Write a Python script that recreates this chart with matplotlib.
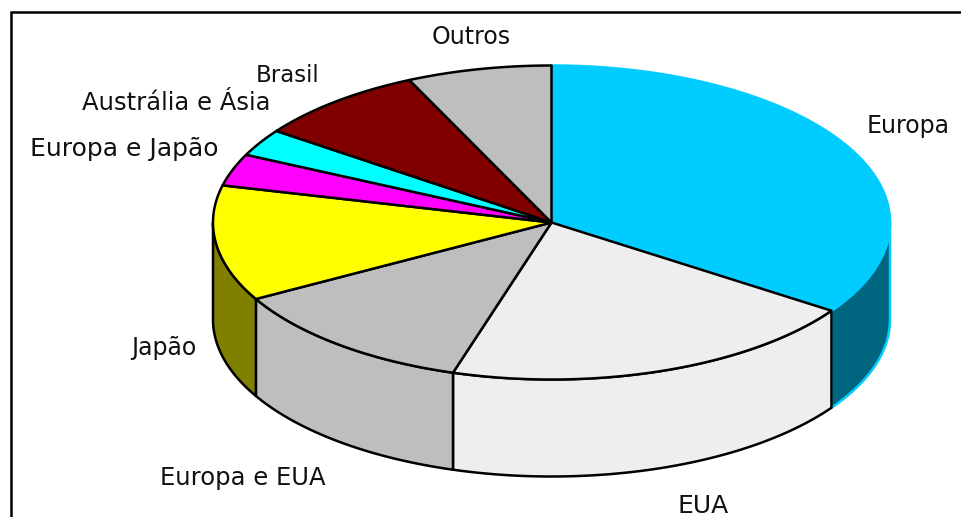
import numpy as np
import matplotlib
matplotlib.use("Agg")
import matplotlib.pyplot as plt
from matplotlib.patches import Polygon

categories = ["Europa", "EUA", "Europa e EUA", "Japão", "Europa e Japão",
              "Austrália e Ásia", "Brasil", "Outros"]
values = [34.5, 20.2, 12.2, 11.9, 3.3, 2.8, 8.2, 6.9]

top_colors = ["#00CCFF", "#EEEEEE", "#BEBEBE", "#FFFF00", "#FF00FF",
              "#00FFFF", "#800000", "#BEBEBE"]
side_colors = ["#006680", "#EEEEEE", "#BEBEBE", "#808000", "#808000",
               "#008080", "#400000", "#808080"]
edge_colors = ["#00CCFF"] + ["black"] * 7

label_x = [908, 703, 243, 164, 124.5, 176.5, 288, 471]
label_y = [133, 513, 485, 355, 156, 110, 82, 44]
label_sizes = [17, 18, 17.5, 17, 18, 17.5, 16.5, 17]

cx, cy, rx, ry, depth = 551.5, 222.5, 338.5, 157, 97

fig = plt.figure(figsize=(9.61, 5.17), dpi=100)
ax = fig.add_axes([0, 0, 1, 1])
ax.set_xlim(0, 961)
ax.set_ylim(517, 0)
ax.axis("off")

# frame, cut off by the picture on the right and at the bottom
ax.plot([11, 11, 961], [517, 12, 12], color="black", lw=1.8, solid_joinstyle="miter")


def arc(a0, a1, dy=0.0):
    t = np.radians(np.linspace(a0, a1, max(int(abs(a1 - a0) * 2), 2)))
    return np.column_stack([cx + rx * np.sin(t), cy - ry * np.cos(t) + dy])


edges = np.concatenate([[0], np.cumsum(values)]) / np.sum(values) * 360

# sides of the visible front half, right to left
for i in range(len(values)):
    a0, a1 = max(edges[i], 90), min(edges[i + 1], 270)
    if a1 <= a0:
        continue
    pts = np.vstack([arc(a0, a1), arc(a1, a0, depth)])
    ax.add_patch(Polygon(pts, closed=True, facecolor=side_colors[i],
                         edgecolor=edge_colors[i], lw=1.8, joinstyle="round", zorder=2))

# top faces
for i in range(len(values)):
    pts = np.vstack([[cx, cy], arc(edges[i], edges[i + 1])])
    ax.add_patch(Polygon(pts, closed=True, facecolor=top_colors[i],
                         edgecolor=edge_colors[i], lw=1.8, joinstyle="round",
                         zorder=3 if i == 0 else 4))

for name, x, y, size in zip(categories, label_x, label_y, label_sizes):
    ax.text(x, y, name, ha="center", va="baseline", fontsize=size,
            family="DejaVu Sans", color="#111111", zorder=5)

fig.savefig("out.png", dpi=100, facecolor="white")
